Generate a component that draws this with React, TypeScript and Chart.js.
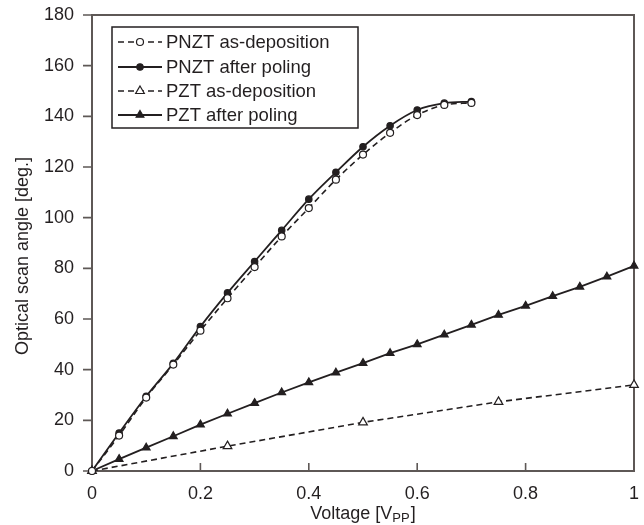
import { useEffect, useRef } from 'react';
import { Chart, registerables } from 'chart.js';
import { drawPoint } from 'chart.js/helpers';

Chart.register(...registerables);

// ---- Data ----
const voltagePNZT = [0, 0.05, 0.1, 0.15, 0.2, 0.25, 0.3, 0.35, 0.4, 0.45, 0.5, 0.55, 0.6, 0.65, 0.7];
const pnztAsDeposition = [0, 14, 29, 42, 55.4, 68.2, 80.5, 92.6, 103.8, 115, 124.9, 133.5, 140.5, 144.5, 145.3];
const pnztAfterPoling = [0, 15, 29.5, 42.5, 57, 70.3, 82.7, 95, 107.3, 117.9, 128, 136.3, 142.5, 145.2, 145.8];

const voltagePZTPoling = [0, 0.05, 0.1, 0.15, 0.2, 0.25, 0.3, 0.35, 0.4, 0.45, 0.5, 0.55, 0.6, 0.65, 0.7, 0.75, 0.8, 0.85, 0.9, 0.95, 1.0];
const pztAfterPoling = [0, 4.7, 9.2, 13.7, 18.3, 22.6, 26.8, 31, 35, 38.8, 42.6, 46.5, 50, 53.8, 57.7, 61.6, 65.2, 69, 72.7, 76.7, 81];

const voltagePZTAsDep = [0, 0.25, 0.5, 0.75, 1.0];
const pztAsDeposition = [0, 9.8, 19.2, 27.3, 34];

const xTicks = [0, 0.2, 0.4, 0.6, 0.8, 1];
const yTicks = [0, 20, 40, 60, 80, 100, 120, 140, 160, 180];

const seriesLabels = ['PNZT as-deposition', 'PNZT after poling', 'PZT as-deposition', 'PZT after poling'];
const xTitleMain = 'Voltage [V';
const xTitleSub = 'PP';
const xTitleEnd = ']';
const yTitle = 'Optical scan angle [deg.]';

const INK = '#231f20';
const FRAME = '#5e5856';
const FONT = '"Liberation Sans", Arial, Helvetica, sans-serif';

const toXY = (xs: number[], ys: number[]) => xs.map((x, i) => ({ x, y: ys[i] }));

const framePlugin = {
  id: 'frameTicks',
  beforeDatasetsDraw(chart: any) {
    const { ctx, chartArea } = chart;
    const xs = chart.scales.x;
    const ys = chart.scales.y;
    ctx.save();
    ctx.strokeStyle = FRAME;
    ctx.lineWidth = 2;
    ctx.strokeRect(chartArea.left, chartArea.top, chartArea.right - chartArea.left, chartArea.bottom - chartArea.top);
    ctx.lineWidth = 1.6;
    ctx.beginPath();
    yTicks.forEach((v) => {
      const y = ys.getPixelForValue(v);
      ctx.moveTo(chartArea.left - 9, y);
      ctx.lineTo(chartArea.left, y);
    });
    xTicks.forEach((v) => {
      const x = xs.getPixelForValue(v);
      ctx.moveTo(x, chartArea.bottom);
      ctx.lineTo(x, chartArea.bottom - 8);
    });
    ctx.stroke();
    ctx.restore();
  },
};

const titlesPlugin = {
  id: 'titles',
  afterDraw(chart: any) {
    const { ctx, chartArea } = chart;
    ctx.save();
    ctx.fillStyle = INK;
    const mainFont = `18px ${FONT}`;
    const subFont = `13px ${FONT}`;
    ctx.font = mainFont;
    const w1 = ctx.measureText(xTitleMain).width;
    const w3 = ctx.measureText(xTitleEnd).width;
    ctx.font = subFont;
    const w2 = ctx.measureText(xTitleSub).width;
    const total = w1 + w2 + w3 + 1;
    const cx = (chartArea.left + chartArea.right) / 2;
    let x = cx - total / 2;
    const baseY = 519;
    ctx.textBaseline = 'alphabetic';
    ctx.textAlign = 'left';
    ctx.font = mainFont;
    ctx.fillText(xTitleMain, x, baseY);
    x += w1;
    ctx.font = subFont;
    ctx.fillText(xTitleSub, x, baseY + 3);
    x += w2 + 1;
    ctx.font = mainFont;
    ctx.fillText(xTitleEnd, x, baseY);
    ctx.translate(23, 256);
    ctx.rotate(-Math.PI / 2);
    ctx.textAlign = 'center';
    ctx.textBaseline = 'middle';
    ctx.font = `18px ${FONT}`;
    ctx.fillText(yTitle, 0, 0);
    ctx.restore();
  },
};

const legendPlugin = {
  id: 'boxLegend',
  afterDraw(chart: any) {
    const { ctx } = chart;
    const left = 112, top = 27, right = 358, bottom = 128;
    const rows = [42, 67, 91, 115];
    ctx.save();
    ctx.fillStyle = '#ffffff';
    ctx.fillRect(left, top, right - left, bottom - top);
    ctx.strokeStyle = INK;
    ctx.lineWidth = 1.5;
    ctx.strokeRect(left, top, right - left, bottom - top);
    chart.data.datasets.forEach((ds: any, i: number) => {
      const y = rows[i];
      ctx.save();
      ctx.strokeStyle = ds.borderColor;
      ctx.lineWidth = ds.borderWidth;
      ctx.setLineDash(ds.borderDash || []);
      ctx.beginPath();
      ctx.moveTo(118, y);
      ctx.lineTo(162, y);
      ctx.stroke();
      ctx.restore();
      ctx.save();
      ctx.fillStyle = ds.pointBackgroundColor;
      ctx.strokeStyle = ds.pointBorderColor;
      ctx.lineWidth = ds.pointBorderWidth;
      drawPoint(ctx, { pointStyle: ds.pointStyle, radius: ds.pointRadius, borderWidth: ds.pointBorderWidth, rotation: 0 } as any, 140, y);
      ctx.restore();
      ctx.fillStyle = INK;
      ctx.font = `18.5px ${FONT}`;
      ctx.textAlign = 'left';
      ctx.textBaseline = 'middle';
      ctx.fillText(seriesLabels[i], 166, y + 1);
    });
    ctx.restore();
  },
};

export default function App() {
  const canvasRef = useRef<HTMLCanvasElement | null>(null);

  useEffect(() => {
    if (!canvasRef.current) return;
    const common = {
      borderColor: INK,
      pointBorderColor: INK,
      pointBorderWidth: 1.2,
      clip: false as any,
      fill: false,
    };
    const chart = new Chart(canvasRef.current, {
      type: 'line',
      data: {
        datasets: [
          {
            ...common,
            label: seriesLabels[0],
            data: toXY(voltagePNZT, pnztAsDeposition),
            borderWidth: 1.6,
            borderDash: [6, 4],
            pointStyle: 'circle',
            pointRadius: 3.5,
            pointBackgroundColor: '#ffffff',
            cubicInterpolationMode: 'monotone',
          },
          {
            ...common,
            label: seriesLabels[1],
            data: toXY(voltagePNZT, pnztAfterPoling),
            borderWidth: 1.8,
            pointStyle: 'circle',
            pointRadius: 3.2,
            pointBackgroundColor: INK,
            cubicInterpolationMode: 'monotone',
          },
          {
            ...common,
            label: seriesLabels[2],
            data: toXY(voltagePZTAsDep, pztAsDeposition),
            borderWidth: 1.6,
            borderDash: [6, 4],
            pointStyle: 'triangle',
            pointRadius: 5,
            pointBackgroundColor: '#ffffff',
            tension: 0,
          },
          {
            ...common,
            label: seriesLabels[3],
            data: toXY(voltagePZTPoling, pztAfterPoling),
            borderWidth: 1.8,
            pointStyle: 'triangle',
            pointRadius: 4.5,
            pointBackgroundColor: INK,
            tension: 0,
          },
        ] as any,
      },
      options: {
        animation: false,
        responsive: true,
        maintainAspectRatio: false,
        layout: { padding: { left: 0, top: 15, right: 10, bottom: 0 } },
        plugins: {
          legend: { display: false },
          tooltip: { enabled: false },
          title: { display: false },
        },
        scales: {
          x: {
            type: 'linear',
            min: 0,
            max: 1,
            grid: { display: false },
            border: { display: false },
            afterBuildTicks: (s: any) => {
              s.ticks = xTicks.map((v) => ({ value: v }));
            },
            afterFit: (s: any) => {
              s.height = 54;
              s.paddingLeft = 0;
              s.paddingRight = 0;
            },
            ticks: {
              color: INK,
              font: { family: FONT, size: 18 },
              padding: 4,
              maxRotation: 0,
              autoSkip: false,
              callback: (v: any) => String(v),
            },
          },
          y: {
            type: 'linear',
            min: 0,
            max: 180,
            grid: { display: false },
            border: { display: false },
            afterBuildTicks: (s: any) => {
              s.ticks = yTicks.map((v) => ({ value: v }));
            },
            afterFit: (s: any) => {
              s.width = 92;
              s.paddingTop = 0;
              s.paddingBottom = 0;
            },
            ticks: {
              color: INK,
              font: { family: FONT, size: 18 },
              padding: 10,
              autoSkip: false,
              callback: (v: any) => String(v),
            },
          },
        },
      },
      plugins: [framePlugin, legendPlugin, titlesPlugin],
    });
    return () => chart.destroy();
  }, []);

  return (
    <div style={{ position: 'fixed', left: 0, top: 0, width: 644, height: 525, background: '#ffffff' }}>
      <canvas ref={canvasRef} />
    </div>
  );
}
